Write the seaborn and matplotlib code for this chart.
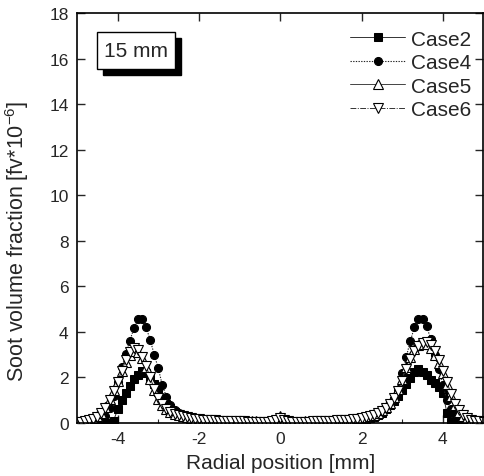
import numpy as np
import pandas as pd
import matplotlib
matplotlib.use("Agg")
import matplotlib.pyplot as plt
import seaborn as sns
from matplotlib.patches import Rectangle
from matplotlib.ticker import MultipleLocator

# ---- data ----
radial_mm = np.round(np.linspace(-5.0, 5.0, 101), 1)

case2 = [0, 0, 0, 0, 0, 0, 0, 0, 0.02,
         0.1, 0.6, 1.0, 1.3, 1.62, 1.92, 2.12, 2.28, 2.2, 2.0, 1.72, 1.38, 1.1, 0.85, 0.64, 0.47,
         0.36, 0.28, 0.22, 0.17, 0.14, 0.12, 0.1, 0.09, 0.08, 0.07, 0.06, 0.06, 0.05, 0.05, 0.04,
         0.04, 0.04, 0.03, 0.03, 0.03, 0.03, 0.03, 0.04, 0.05, 0.07, 0.12,
         0.07, 0.05, 0.04, 0.03, 0.03, 0.03, 0.03, 0.04, 0.04, 0.04, 0.05, 0.05, 0.06, 0.06, 0.07,
         0.08, 0.09, 0.1, 0.12, 0.14, 0.17, 0.21, 0.27, 0.35, 0.45, 0.6, 0.78, 0.98, 1.2, 1.45,
         1.7, 1.98, 2.22, 2.36, 2.25, 2.1, 1.9, 1.75, 1.58, 1.3, 0.45, 0.05,
         0, 0, 0, 0, 0, 0, 0, 0]

case4 = [0, 0, 0, 0, 0.01,
         0.04, 0.12, 0.3, 0.68, 1.2, 1.8, 2.45, 3.05, 3.62, 4.15, 4.55, 4.55, 4.2, 3.65, 3.0, 2.4,
         1.65, 1.15, 0.8, 0.56, 0.42, 0.32, 0.25, 0.2, 0.16, 0.13, 0.11, 0.1, 0.09, 0.08, 0.07,
         0.06, 0.06, 0.05, 0.05, 0.04, 0.04, 0.04, 0.03, 0.03, 0.03, 0.03, 0.03, 0.04, 0.05, 0.08,
         0.05, 0.04, 0.03, 0.03, 0.03, 0.03, 0.03, 0.04, 0.04, 0.04, 0.05, 0.05, 0.06, 0.07, 0.08,
         0.09, 0.1, 0.12, 0.14, 0.17, 0.21, 0.26, 0.32, 0.4, 0.5, 0.62, 0.8, 1.05, 1.45, 2.2,
         2.9, 3.6, 4.2, 4.55, 4.55, 4.25, 3.7, 3.0, 2.35, 1.65, 1.0, 0.6, 0.35, 0.2, 0.1,
         0.05, 0.02, 0.01, 0, 0]

case5 = [0.05, 0.07, 0.1, 0.14, 0.2, 0.3, 0.45, 0.7, 1.05, 1.45, 1.85, 2.3, 2.7, 2.98, 3.15,
         3.1, 2.85, 2.45, 1.95, 1.45, 1.05, 0.8, 0.62, 0.5, 0.41, 0.34, 0.29, 0.25, 0.22, 0.19,
         0.17, 0.15, 0.14, 0.13, 0.12, 0.11, 0.1, 0.1, 0.09, 0.09, 0.08, 0.08, 0.07, 0.07, 0.07,
         0.06, 0.06, 0.07, 0.09, 0.14, 0.3,
         0.14, 0.09, 0.07, 0.06, 0.06, 0.07, 0.07, 0.08, 0.08, 0.09, 0.1, 0.1, 0.11, 0.12, 0.13,
         0.14, 0.16, 0.18, 0.2, 0.23, 0.26, 0.3, 0.36, 0.44, 0.55, 0.7, 0.9, 1.15, 1.5, 1.95,
         2.45, 2.9, 3.25, 3.42, 3.48, 3.45, 3.3, 3.0, 2.65, 2.2, 1.7, 1.2, 0.8, 0.5, 0.3,
         0.2, 0.13, 0.09, 0.06, 0.04]

case6 = [0.04, 0.06, 0.09, 0.13, 0.19, 0.28, 0.42, 0.66, 1.0, 1.4, 1.82, 2.3, 2.75, 3.1, 3.3,
         3.2, 2.9, 2.5, 2.0, 1.5, 1.1, 0.82, 0.63, 0.5, 0.41, 0.34, 0.29, 0.25, 0.21, 0.18,
         0.16, 0.14, 0.13, 0.12, 0.11, 0.1, 0.09, 0.09, 0.08, 0.08, 0.07, 0.07, 0.06, 0.06, 0.06,
         0.05, 0.05, 0.06, 0.08, 0.12, 0.22,
         0.12, 0.08, 0.06, 0.05, 0.05, 0.06, 0.06, 0.07, 0.07, 0.08, 0.09, 0.09, 0.1, 0.11, 0.12,
         0.13, 0.15, 0.17, 0.19, 0.22, 0.25, 0.29, 0.34, 0.42, 0.52, 0.66, 0.85, 1.1, 1.42, 1.85,
         2.35, 2.8, 3.15, 3.38, 3.5, 3.55, 3.42, 3.15, 2.75, 2.3, 1.8, 1.28, 0.85, 0.55, 0.33,
         0.21, 0.14, 0.1, 0.07, 0.05]

series_names = ["Case2", "Case4", "Case5", "Case6"]
series_values = [case2, case4, case5, case6]
x_ticks = [-4, -2, 0, 2, 4]
y_ticks = [0, 2, 4, 6, 8, 10, 12, 14, 16, 18]
annotation = "15 mm"

# ---- style ----
sns.set_style("ticks")
plt.rcParams["font.family"] = ["Liberation Sans", "DejaVu Sans"]
plt.rcParams["mathtext.fontset"] = "custom"
plt.rcParams["mathtext.rm"] = "Liberation Sans"
plt.rcParams["mathtext.it"] = "Liberation Sans:italic"
plt.rcParams["mathtext.bf"] = "Liberation Sans:bold"
plt.rcParams["axes.unicode_minus"] = False

fig = plt.figure(figsize=(4.84, 4.77), dpi=100)
ax = fig.add_axes([77 / 484, 53 / 477, 406.5 / 484, 410 / 477])

styles = {
    "Case2": dict(marker="s", linestyle="-", markersize=5.2, markerfacecolor="black",
                  markeredgecolor="black", color="#333333", linewidth=0.7),
    "Case4": dict(marker="o", linestyle=(0, (1.2, 1.2)), markersize=5.8, markerfacecolor="black",
                  markeredgecolor="black", color="#222222", linewidth=0.8),
    "Case5": dict(marker="^", linestyle="-", markersize=6.8, markerfacecolor="white",
                  markeredgecolor="black", markeredgewidth=0.8, color="#444444", linewidth=0.7),
    "Case6": dict(marker="v", linestyle=(0, (6, 1.5, 1, 1.5)), markersize=6.8,
                  markerfacecolor="white", markeredgecolor="black", markeredgewidth=0.8,
                  color="#333333", linewidth=0.7),
}

for name, vals in zip(series_names, series_values):
    df = pd.DataFrame({"r": radial_mm, "fv": vals})
    sns.lineplot(data=df, x="r", y="fv", ax=ax, sort=False, estimator=None,
                 label=name, **styles[name])

ax.set_xlim(-5, 5)
ax.set_ylim(0, 18)
ax.set_xticks(x_ticks)
ax.set_yticks(y_ticks)
ax.xaxis.set_minor_locator(MultipleLocator(1))
ax.tick_params(axis="both", which="major", direction="in", length=6, width=1.0,
               top=True, right=True, labelsize=12.5, pad=6)
ax.tick_params(axis="x", which="minor", direction="in", length=3, width=0.8, top=False)
for s in ax.spines.values():
    s.set_linewidth(1.2)
    s.set_color("black")

ax.set_xlabel("Radial position [mm]", fontsize=15, labelpad=5)
ax.set_ylabel(r"Soot volume fraction [fv*10$^{-6}$]", fontsize=15.5)
ax.yaxis.set_label_coords(-0.112, 0.446)

# legend
leg = ax.legend(loc="upper right", bbox_to_anchor=(0.99, 0.98), frameon=False,
                fontsize=15, handlelength=2.6, handletextpad=0.3, labelspacing=0.22,
                borderaxespad=0.0)

# annotation box with shadow
bx, by, bw, bh = 0.049, 0.863, 0.192, 0.09
ax.add_patch(Rectangle((bx + 0.0147, by - 0.0146), bw, bh, transform=ax.transAxes,
                       facecolor="black", edgecolor="black", zorder=5))
ax.add_patch(Rectangle((bx, by), bw, bh, transform=ax.transAxes,
                       facecolor="white", edgecolor="black", linewidth=1.0, zorder=6))
ax.text(bx + bw / 2, by + bh / 2, annotation, transform=ax.transAxes, ha="center",
        va="center", fontsize=15, zorder=7)

fig.savefig("out.png", dpi=100)
